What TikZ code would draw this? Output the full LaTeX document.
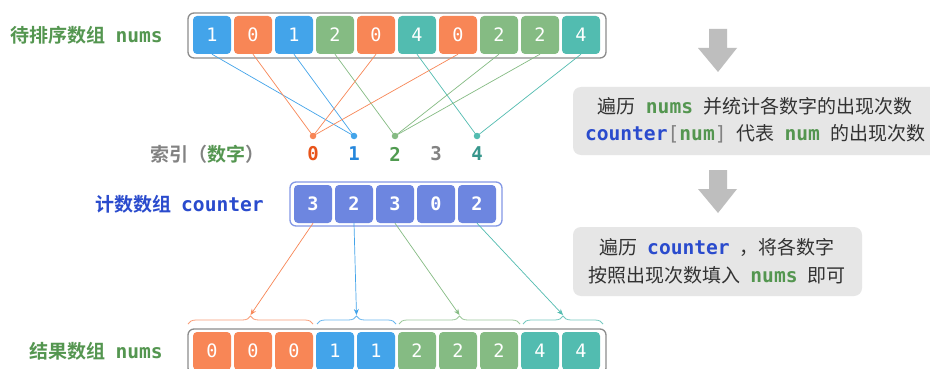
\documentclass[tikz,border=0pt]{standalone}
\usepackage{fontspec}
\setmonofont{DejaVu Sans Mono}
\newfontfamily\cjk{Noto Sans CJK SC}[BoldFont={Noto Sans CJK SC Bold}]
\usetikzlibrary{decorations.pathreplacing,arrows.meta}
\definecolor{cblue}{RGB}{67,164,234}
\definecolor{corange}{RGB}{248,134,86}
\definecolor{cgreen}{RGB}{133,187,131}
\definecolor{cteal}{RGB}{82,188,176}
\definecolor{cperi}{RGB}{109,134,224}
\definecolor{lgreen}{RGB}{84,150,80}
\definecolor{lblue}{RGB}{42,75,205}
\definecolor{lgrey}{RGB}{130,130,130}
\definecolor{iorange}{RGB}{232,84,26}
\definecolor{iblue}{RGB}{38,135,220}
\definecolor{igreen}{RGB}{80,155,80}
\definecolor{iteal}{RGB}{55,150,140}
\definecolor{boxgrey}{RGB}{230,230,230}
\definecolor{arrgrey}{RGB}{190,190,190}
\definecolor{txt}{RGB}{50,50,50}
\definecolor{framec}{RGB}{140,140,140}
\colorlet{v0}{corange}
\colorlet{v1}{cblue}
\colorlet{v2}{cgreen}
\colorlet{v4}{cteal}
\colorlet{i0}{iorange}
\colorlet{i1}{iblue}
\colorlet{i2}{igreen}
\colorlet{i3}{lgrey}
\colorlet{i4}{iteal}
\newcommand{\cf}{\cjk\fontsize{19}{19}\selectfont}
\newcommand{\mf}{\ttfamily\bfseries\fontsize{19.6}{19.6}\selectfont}
\newcommand{\mfr}{\ttfamily\fontsize{19.6}{19.6}\selectfont}
\tikzset{
  cell/.style={minimum width=38pt, minimum height=38pt, rounded corners=4pt,
    inner sep=0pt, text=white, font=\ttfamily\fontsize{18.5}{18.5}\selectfont},
  bcell/.style={cell, font=\ttfamily\bfseries\fontsize{18.5}{18.5}\selectfont},
  frameb/.style={line width=1.3pt, rounded corners=6pt, fill=white},
  dotn/.style={circle, inner sep=0pt, minimum size=6.5pt},
  link/.style={line width=0.7pt},
  idx/.style={font=\ttfamily\bfseries\fontsize{19}{19}\selectfont, inner sep=0pt},
  lab/.style={anchor=east, inner sep=0pt},
  brc/.style={decorate, decoration={brace, amplitude=8pt}, line width=0.8pt},
  arr/.style={line width=0.7pt, -{Stealth[length=6pt,width=5pt]}},
  note/.style={font=\cf, text=txt, inner sep=0pt},
}
\begin{document}
\begin{tikzpicture}[x=1pt,y=-1pt]
\useasboundingbox (0,0) rectangle (930,369);
\clip (0,0) rectangle (930,369);
\fill[white] (0,0) rectangle (930,369);

% labels
\node[lab, font=\cf\bfseries, text=lgreen] (lnums) at (163,35) {待排序数组\hspace{10pt}{\mf nums}};
\node[lab, font=\cf\bfseries, text=lgrey] (lidx) at (265,154) {索引（\textcolor{lgreen}{数字}）};
\node[lab, font=\cf\bfseries, text=lblue] (lcnt) at (264,204) {计数数组\hspace{10pt}{\mf counter}};
\node[lab, font=\cf\bfseries, text=lgreen] (lres) at (163,351) {结果数组\hspace{10pt}{\mf nums}};

% top array
\draw[framec, frameb] (188,13) rectangle (606,58);
\foreach \v [count=\i from 0] in {1,0,1,2,0,4,0,2,2,4}
  \node[cell, fill=v\v] (t\i) at (212+41*\i,35) {\v};

% index dots
\foreach \v in {0,1,2,3,4}
  \coordinate (d\v) at (313+41*\v,136);
\foreach \v [count=\i from 0] in {1,0,1,2,0,4,0,2,2,4}
  \draw[link, v\v] (t\i.south) -- (d\v);
\foreach \v in {0,1,2,4}
  \node[dotn, fill=v\v] (dot\v) at (d\v) {};
\foreach \v in {0,1,2,3,4}
  \node[idx, text=i\v] (ix\v) at (313+41*\v,154) {\v};

% counter array
\draw[cperi!85, frameb] (290,182) rectangle (502,226);
\foreach \v [count=\i from 0] in {3,2,3,0,2}
  \node[bcell, fill=cperi] (c\i) at (313+41*\i,204) {\v};

% braces
\draw[brc, corange!80] (188,324) -- (313,324) coordinate[pos=0.5] (m0);
\draw[brc, cblue!80] (317,324) -- (396,324) coordinate[pos=0.5] (m1);
\draw[brc, cgreen!80] (399,324) -- (520,324) coordinate[pos=0.5] (m2);
\draw[brc, cteal!80] (523,324) -- (603,324) coordinate[pos=0.5] (m3);
\path (m0) ++(0,-9) coordinate (b0);
\path (m1) ++(0,-9) coordinate (b1);
\path (m2) ++(0,-9) coordinate (b2);
\path (m3) ++(0,-9) coordinate (b3);
\draw[arr, corange] (c0.south) -- (b0);
\draw[arr, cblue] (c1.south) -- (b1);
\draw[arr, cgreen] (c2.south) -- (b2);
\draw[arr, cteal] (c4.south) -- (b3);

% result array
\draw[framec, frameb] (188,329) rectangle (606,374);
\foreach \v [count=\i from 0] in {0,0,0,1,1,2,2,2,4,4}
  \node[cell, fill=v\v] (r\i) at (212+41*\i,351) {\v};

% right side arrows
\fill[arrgrey] (709,29) -- (727,29) -- (727,48) -- (737,48) -- (718,72) -- (698,48) -- (709,48) -- cycle;
\fill[arrgrey] (709,170) -- (727,170) -- (727,189) -- (737,189) -- (718,213) -- (698,189) -- (709,189) -- cycle;

% notes
\fill[boxgrey, rounded corners=8pt] (573,87) rectangle (945,155);
\node[note] (n1a) at (755,106) {遍历\hspace{10pt}{\mf\color{lgreen}nums}\hspace{10pt}并统计各数字的出现次数};
\node[note] (n1b) at (755,134) {{\mf\color{lblue}counter}{\mfr\color{lgrey}[}{\mf\color{lgreen}num}{\mfr\color{lgrey}]}\hspace{10pt}代表\hspace{10pt}{\mf\color{lgreen}num}\hspace{10pt}的出现次数};
\fill[boxgrey, rounded corners=8pt] (573,227) rectangle (862,296);
\node[note] (n2a) at (717,247) {遍历\hspace{10pt}{\mf\color{lblue}counter}\hspace{10pt}，将各数字};
\node[note] (n2b) at (717,275) {按照出现次数填入\hspace{10pt}{\mf\color{lgreen}nums}\hspace{10pt}即可};
\end{tikzpicture}
\end{document}
